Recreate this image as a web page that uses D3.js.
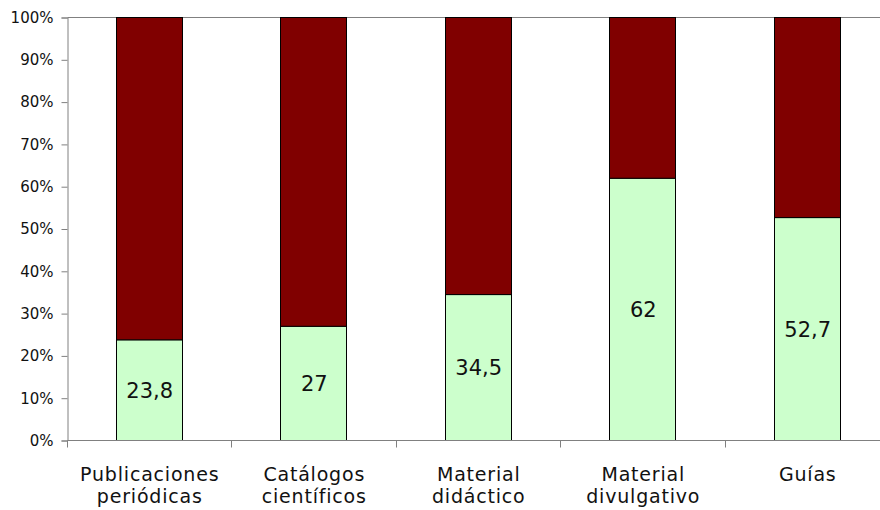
<!DOCTYPE html>
<html>
<head>
<meta charset="utf-8">
<script src="https://cdn.jsdelivr.net/npm/d3@7"></script>
<style>
  html, body { margin: 0; padding: 0; background: #fff; }
  svg { display: block; }
  text { font-family: "Century Gothic", "URW Gothic", "DejaVu Sans", sans-serif; fill: #111; }
</style>
</head>
<body>
<svg id="chart" width="880" height="510"></svg>
<script>
// Share of each publication type (light green), remainder up to 100% (dark red)
const categories = [
  ["Publicaciones", "periódicas"],
  ["Catálogos", "científicos"],
  ["Material", "didáctico"],
  ["Material", "divulgativo"],
  ["Guías"]
];
const shareValues = [23.8, 27, 34.5, 62, 52.7];
const shareLabels = ["23,8", "27", "34,5", "62", "52,7"];
const yTicks = [0, 10, 20, 30, 40, 50, 60, 70, 80, 90, 100];

const svg = d3.select("#chart");
const plotLeft = 67.5, plotRight = 890, plotTop = 17.5, plotBottom = 440.5;

const keys = categories.map((c, i) => i);
const x = d3.scaleBand().domain(keys).range([plotLeft, plotRight]).paddingInner(0.6).paddingOuter(0.3);
const y = d3.scaleLinear().domain([0, 100]).range([plotBottom, plotTop]);

const rows = keys.map(i => ({ i, share: shareValues[i], rest: 100 - shareValues[i] }));
const stack = d3.stack().keys(["share", "rest"])(rows);
const colors = { share: "#ccffcc", rest: "#800000" };

// top border of the plot area
svg.append("line")
  .attr("x1", plotLeft).attr("x2", 880).attr("y1", plotTop).attr("y2", plotTop)
  .attr("stroke", "#808080").attr("stroke-width", 1);

// stacked 100% columns
stack.forEach(layer => {
  svg.append("g").selectAll("rect").data(layer).join("rect")
    .attr("x", d => Math.round(x(d.data.i)) - 0.5)
    .attr("width", Math.round(x.bandwidth()))
    .attr("y", d => y(d[1]))
    .attr("height", d => y(d[0]) - y(d[1]))
    .attr("fill", colors[layer.key])
    .attr("stroke", "#000").attr("stroke-width", 1);
});

// y axis
const yAxis = svg.append("g").attr("transform", `translate(${plotLeft},0)`)
  .call(d3.axisLeft(y).tickValues(yTicks).tickFormat(d => d + "%").tickSize(6).tickPadding(8));
yAxis.selectAll("path, line").attr("stroke", "#808080");
yAxis.selectAll("text").style("font-size", "15px").attr("font-family", null).attr("fill", null);

// x axis with ticks between categories
const bounds = d3.range(categories.length + 1).map(i => plotLeft + i * x.step());
const xAxis = svg.append("g").attr("transform", `translate(0,${plotBottom})`);
xAxis.append("line").attr("x1", plotLeft).attr("x2", 880).attr("stroke", "#808080");
xAxis.selectAll("line.tick").data(bounds).join("line").attr("class", "tick")
  .attr("x1", d => Math.round(d) - 0.5).attr("x2", d => Math.round(d) - 0.5)
  .attr("y1", 0).attr("y2", 7).attr("stroke", "#808080");

// category labels (two lines)
const cat = svg.append("g").selectAll("text").data(keys).join("text")
  .attr("text-anchor", "middle")
  .style("font-size", "19px")
  .style("letter-spacing", "0.8px");
cat.each(function(i) {
  const t = d3.select(this);
  categories[i].forEach((line, k) => {
    t.append("tspan")
      .attr("x", x(i) + x.bandwidth() / 2)
      .attr("y", 481 + k * 22)
      .text(line);
  });
});

// value labels centred in the light green segment
svg.append("g").selectAll("text").data(rows).join("text")
  .attr("x", d => x(d.i) + x.bandwidth() / 2)
  .attr("y", d => y(d.share / 2))
  .attr("dy", "0.36em")
  .attr("text-anchor", "middle")
  .style("font-size", "21px")
  .text(d => shareLabels[d.i]);
</script>
</body>
</html>
